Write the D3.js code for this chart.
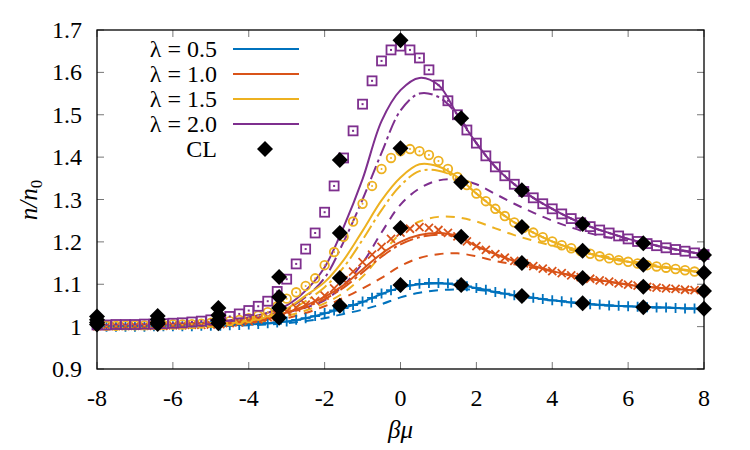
<!DOCTYPE html>
<html>
<head>
<meta charset="utf-8">
<script src="https://d3js.org/d3.v7.min.js"></script>
<style>
  body { margin: 0; background: #fff; }
  svg text { font-family: "Liberation Serif", "Times New Roman", serif; fill: #000; }
</style>
</head>
<body>
<svg id="chart" width="750" height="450"></svg>
<script>
// x grids
const lineX = [-8, -7.5, -7, -6.5, -6, -5.5, -5, -4.5, -4, -3.5, -3, -2.5, -2, -1.5, -1, -0.5,
  0, 0.5, 1, 1.5, 2, 2.5, 3, 3.5, 4, 4.5, 5, 5.5, 6, 6.5, 7, 7.5, 8];
const markX = [
  -8, -7.75, -7.5, -7.25, -7, -6.75, -6.5, -6.25, -6, -5.75, -5.5, -5.25, -5, -4.75, -4.5, -4.25,
  -4, -3.75, -3.5, -3.25, -3, -2.75, -2.5, -2.25, -2, -1.75, -1.5, -1.25, -1, -0.75, -0.5, -0.25,
  0, 0.25, 0.5, 0.75, 1, 1.25, 1.5, 1.75, 2, 2.25, 2.5, 2.75, 3, 3.25, 3.5, 3.75,
  4, 4.25, 4.5, 4.75, 5, 5.25, 5.5, 5.75, 6, 6.25, 6.5, 6.75, 7, 7.25, 7.5, 7.75, 8];

// lambda = 0.5 (blue)
const blueSolid = [1.000, 1.000, 1.000, 1.001, 1.001, 1.001, 1.002, 1.003, 1.005, 1.008, 1.012, 1.020,
  1.031, 1.044, 1.058, 1.077, 1.092, 1.100, 1.102, 1.099, 1.091, 1.082, 1.074, 1.068,
  1.062, 1.057, 1.053, 1.050, 1.048, 1.046, 1.045, 1.043, 1.042];
const blueDashed = [1.000, 1.000, 1.000, 1.000, 1.001, 1.001, 1.001, 1.002, 1.003, 1.005, 1.008, 1.013,
  1.020, 1.030, 1.040, 1.053, 1.069, 1.080, 1.086, 1.088, 1.087, 1.081, 1.074, 1.068,
  1.062, 1.057, 1.053, 1.050, 1.048, 1.046, 1.045, 1.043, 1.042];
const blueMarks = [
  1.000, 1.000, 1.000, 1.000, 1.000, 1.000, 1.001, 1.001, 1.001, 1.001, 1.001, 1.002, 1.002, 1.002, 1.003, 1.004,
  1.005, 1.006, 1.008, 1.010, 1.012, 1.016, 1.020, 1.025, 1.032, 1.038, 1.044, 1.051, 1.059, 1.068, 1.078, 1.086,
  1.093, 1.098, 1.101, 1.103, 1.103, 1.102, 1.099, 1.095, 1.091, 1.087, 1.082, 1.078, 1.074, 1.071, 1.068, 1.065,
  1.062, 1.060, 1.057, 1.055, 1.053, 1.052, 1.050, 1.049, 1.048, 1.047, 1.046, 1.045, 1.045, 1.044, 1.043, 1.043, 1.042];

// lambda = 1.0 (orange)
const orangeSolid = [1.001, 1.001, 1.001, 1.002, 1.002, 1.003, 1.004, 1.006, 1.010, 1.018, 1.033, 1.050,
  1.070, 1.098, 1.135, 1.172, 1.200, 1.216, 1.221, 1.214, 1.190, 1.171, 1.155, 1.143,
  1.131, 1.121, 1.113, 1.106, 1.099, 1.094, 1.090, 1.087, 1.084];
const orangeDashDot = [1.001, 1.001, 1.001, 1.001, 1.002, 1.003, 1.004, 1.006, 1.009, 1.016, 1.030, 1.046,
  1.065, 1.092, 1.128, 1.165, 1.194, 1.211, 1.217, 1.211, 1.190, 1.171, 1.155, 1.143,
  1.131, 1.121, 1.113, 1.106, 1.099, 1.094, 1.090, 1.087, 1.084];
const orangeDashed = [1.000, 1.000, 1.000, 1.001, 1.001, 1.002, 1.003, 1.005, 1.008, 1.013, 1.020, 1.032,
  1.048, 1.068, 1.090, 1.115, 1.143, 1.162, 1.171, 1.173, 1.166, 1.155, 1.147, 1.139,
  1.131, 1.121, 1.113, 1.106, 1.099, 1.094, 1.090, 1.087, 1.084];
const orangeMarks = [
  1.001, 1.001, 1.001, 1.001, 1.002, 1.002, 1.002, 1.002, 1.003, 1.003, 1.004, 1.004, 1.005, 1.006, 1.008, 1.010,
  1.013, 1.017, 1.022, 1.028, 1.036, 1.045, 1.052, 1.061, 1.073, 1.090, 1.110, 1.130, 1.152, 1.170, 1.188, 1.207,
  1.222, 1.231, 1.235, 1.233, 1.228, 1.221, 1.213, 1.201, 1.190, 1.181, 1.171, 1.163, 1.155, 1.149, 1.143, 1.137,
  1.131, 1.126, 1.121, 1.117, 1.113, 1.109, 1.106, 1.102, 1.099, 1.097, 1.094, 1.092, 1.090, 1.089, 1.087, 1.086, 1.084];

// lambda = 1.5 (yellow)
const yellowSolid = [1.001, 1.001, 1.002, 1.002, 1.003, 1.004, 1.006, 1.009, 1.014, 1.023, 1.042, 1.073,
  1.105, 1.157, 1.226, 1.298, 1.352, 1.383, 1.378, 1.353, 1.314, 1.278, 1.246, 1.222,
  1.201, 1.185, 1.172, 1.161, 1.153, 1.145, 1.139, 1.133, 1.127];
const yellowDashDot = [1.001, 1.001, 1.001, 1.002, 1.003, 1.004, 1.005, 1.008, 1.012, 1.020, 1.035, 1.060,
  1.093, 1.140, 1.205, 1.275, 1.333, 1.367, 1.368, 1.350, 1.314, 1.278, 1.246, 1.222,
  1.201, 1.185, 1.172, 1.161, 1.153, 1.145, 1.139, 1.133, 1.127];
const yellowDashed = [1.000, 1.000, 1.001, 1.001, 1.002, 1.003, 1.004, 1.006, 1.010, 1.016, 1.025, 1.038,
  1.055, 1.080, 1.118, 1.170, 1.220, 1.248, 1.259, 1.258, 1.248, 1.232, 1.216, 1.203,
  1.191, 1.181, 1.172, 1.164, 1.156, 1.148, 1.141, 1.134, 1.128];
const yellowMarks = [
  1.002, 1.002, 1.002, 1.003, 1.003, 1.003, 1.004, 1.004, 1.005, 1.005, 1.006, 1.007, 1.009, 1.010, 1.013, 1.016,
  1.020, 1.026, 1.034, 1.048, 1.066, 1.081, 1.096, 1.114, 1.145, 1.176, 1.212, 1.248, 1.290, 1.332, 1.372, 1.398,
  1.414, 1.419, 1.414, 1.405, 1.391, 1.372, 1.353, 1.334, 1.314, 1.296, 1.278, 1.261, 1.246, 1.233, 1.222, 1.211,
  1.201, 1.192, 1.185, 1.178, 1.172, 1.166, 1.161, 1.157, 1.153, 1.149, 1.145, 1.142, 1.139, 1.136, 1.133, 1.130, 1.127];

// lambda = 2.0 (purple)
const purpleSolid = [1.002, 1.002, 1.003, 1.004, 1.005, 1.007, 1.010, 1.015, 1.022, 1.033, 1.050, 1.085,
  1.140, 1.235, 1.348, 1.485, 1.558, 1.587, 1.570, 1.500, 1.433, 1.377, 1.336, 1.304,
  1.278, 1.255, 1.236, 1.221, 1.207, 1.196, 1.186, 1.178, 1.170];
const purpleDashDot = [1.001, 1.002, 1.002, 1.003, 1.004, 1.006, 1.008, 1.012, 1.018, 1.027, 1.042, 1.070,
  1.115, 1.200, 1.300, 1.410, 1.510, 1.550, 1.542, 1.500, 1.433, 1.377, 1.336, 1.304,
  1.278, 1.255, 1.236, 1.221, 1.207, 1.196, 1.186, 1.178, 1.170];
const purpleDashed = [1.000, 1.001, 1.001, 1.001, 1.002, 1.003, 1.005, 1.008, 1.013, 1.021, 1.033, 1.045,
  1.062, 1.098, 1.150, 1.222, 1.288, 1.326, 1.345, 1.347, 1.336, 1.313, 1.290, 1.269,
  1.250, 1.234, 1.220, 1.210, 1.203, 1.196, 1.187, 1.179, 1.171];
const purpleMarks = [
  1.004, 1.004, 1.005, 1.005, 1.005, 1.006, 1.006, 1.007, 1.008, 1.009, 1.011, 1.013, 1.016, 1.019, 1.024, 1.030,
  1.038, 1.048, 1.060, 1.083, 1.112, 1.148, 1.183, 1.221, 1.270, 1.332, 1.398, 1.462, 1.525, 1.580, 1.627, 1.653,
  1.662, 1.653, 1.634, 1.606, 1.570, 1.533, 1.500, 1.464, 1.433, 1.403, 1.377, 1.356, 1.336, 1.319, 1.304, 1.290,
  1.278, 1.266, 1.255, 1.245, 1.236, 1.228, 1.221, 1.214, 1.207, 1.201, 1.196, 1.191, 1.186, 1.182, 1.178, 1.174, 1.170];

// CL points
const clX = [-8, -6.4, -4.8, -3.2, -1.6, 0, 1.6, 3.2, 4.8, 6.4, 8];
const clPurple = [1.024, 1.025, 1.044, 1.117, 1.393, 1.676, 1.492, 1.322, 1.242, 1.197, 1.169];
const clYellow = [1.016, 1.017, 1.027, 1.070, 1.221, 1.421, 1.341, 1.235, 1.179, 1.146, 1.127];
const clOrange = [1.010, 1.010, 1.015, 1.044, 1.115, 1.233, 1.212, 1.150, 1.115, 1.094, 1.084];
const clBlue = [1.005, 1.006, 1.008, 1.021, 1.049, 1.098, 1.098, 1.072, 1.055, 1.046, 1.042];

const xTicks = [-8, -6, -4, -2, 0, 2, 4, 6, 8];
const yTicks = [0.9, 1.0, 1.1, 1.2, 1.3, 1.4, 1.5, 1.6, 1.7];
const yTickLabels = ["0.9", "1", "1.1", "1.2", "1.3", "1.4", "1.5", "1.6", "1.7"];
const legendLabels = ["0.5", "1.0", "1.5", "2.0"];

const colors = ["#0072bd", "#d95319", "#edb120", "#7e2f8e"];

const svg = d3.select("#chart");
const x = d3.scaleLinear().domain([-8, 8]).range([97, 704]);
const y = d3.scaleLinear().domain([0.9, 1.7]).range([369, 30]);

// ticks (inside, all four sides)
const tickG = svg.append("g").attr("stroke", "#777").attr("stroke-width", 1);
xTicks.forEach(t => {
  tickG.append("line").attr("x1", x(t)).attr("x2", x(t)).attr("y1", y(0.9)).attr("y2", y(0.9) - 7);
  tickG.append("line").attr("x1", x(t)).attr("x2", x(t)).attr("y1", y(1.7)).attr("y2", y(1.7) + 7);
});
yTicks.forEach(t => {
  tickG.append("line").attr("x1", x(-8)).attr("x2", x(-8) + 7).attr("y1", y(t)).attr("y2", y(t));
  tickG.append("line").attr("x1", x(8)).attr("x2", x(8) - 7).attr("y1", y(t)).attr("y2", y(t));
});

// tick labels
svg.append("g").selectAll("text").data(xTicks).enter().append("text")
  .attr("x", d => x(d)).attr("y", 406)
  .attr("text-anchor", "middle").attr("font-size", 24)
  .text(d => d);
svg.append("g").selectAll("text").data(yTicks).enter().append("text")
  .attr("x", 82).attr("y", d => y(d) + 8)
  .attr("text-anchor", "end").attr("font-size", 24)
  .text((d, i) => yTickLabels[i]);

// axis titles
svg.append("text").attr("x", x(0)).attr("y", 438)
  .attr("text-anchor", "middle").attr("font-size", 25).attr("font-style", "italic")
  .text("βμ");
const yt = svg.append("text").attr("transform", "translate(37,200) rotate(-90)")
  .attr("text-anchor", "middle").attr("font-size", 25);
yt.append("tspan").attr("font-style", "italic").text("n/n");
yt.append("tspan").attr("font-size", 17).attr("dy", 5).text("0");

// lines
const line = d3.line()
  .x((d, i) => x(lineX[i]))
  .y(d => y(d))
  .curve(d3.curveCatmullRom.alpha(0.5));

const dashed = "9,7";
const dashDot = "14,4,3,4";
const lineSets = [
  [blueDashed, 0, dashed], [orangeDashed, 1, dashed], [yellowDashed, 2, dashed], [purpleDashed, 3, dashed],
  [orangeDashDot, 1, dashDot], [yellowDashDot, 2, dashDot], [purpleDashDot, 3, dashDot],
  [blueSolid, 0, null], [orangeSolid, 1, null], [yellowSolid, 2, null], [purpleSolid, 3, null]
];
const lineG = svg.append("g");
lineSets.forEach(([vals, c, dash]) => {
  lineG.append("path")
    .datum(vals)
    .attr("fill", "none")
    .attr("stroke", colors[c])
    .attr("stroke-width", 2)
    .attr("stroke-dasharray", dash)
    .attr("d", line);
});

// markers
const markG = svg.append("g");
markG.selectAll(".plus").data(blueMarks).enter().append("path")
  .attr("transform", (d, i) => `translate(${x(markX[i])},${y(d)})`)
  .attr("d", "M-5,0H5M0,-5V5")
  .attr("stroke", colors[0]).attr("stroke-width", 1.8).attr("fill", "none");
markG.selectAll(".cross").data(orangeMarks).enter().append("path")
  .attr("transform", (d, i) => `translate(${x(markX[i])},${y(d)})`)
  .attr("d", "M-4,-4L4,4M-4,4L4,-4")
  .attr("stroke", colors[1]).attr("stroke-width", 1.8).attr("fill", "none");
const circ = markG.selectAll(".circ").data(yellowMarks).enter().append("g")
  .attr("transform", (d, i) => `translate(${x(markX[i])},${y(d)})`);
circ.append("circle").attr("r", 4.3).attr("fill", "none").attr("stroke", colors[2]).attr("stroke-width", 1.8);
circ.append("circle").attr("r", 1).attr("fill", colors[2]);
const sq = markG.selectAll(".sq").data(purpleMarks).enter().append("g")
  .attr("transform", (d, i) => `translate(${x(markX[i])},${y(d)})`);
sq.append("rect").attr("x", -4.5).attr("y", -4.5).attr("width", 9).attr("height", 9)
  .attr("fill", "none").attr("stroke", colors[3]).attr("stroke-width", 1.8);
sq.append("rect").attr("x", -1).attr("y", -1).attr("width", 2).attr("height", 2).attr("fill", colors[3]);

// CL diamonds
const diamond = "M0,-8L8,0L0,8L-8,0Z";
const clG = svg.append("g");
[clPurple, clYellow, clOrange, clBlue].forEach(vals => {
  clG.selectAll(null).data(vals).enter().append("path")
    .attr("transform", (d, i) => `translate(${x(clX[i])},${y(d)})`)
    .attr("d", diamond).attr("fill", "#000");
});

// frame
svg.append("rect").attr("x", x(-8)).attr("y", y(1.7))
  .attr("width", x(8) - x(-8)).attr("height", y(0.9) - y(1.7))
  .attr("fill", "none").attr("stroke", "#000").attr("stroke-width", 1.3);

// legend
const legend = svg.append("g");
legendLabels.forEach((lab, i) => {
  const ly = 49 + i * 25;
  legend.append("text").attr("x", 217).attr("y", ly + 8)
    .attr("text-anchor", "end").attr("font-size", 24)
    .text(`λ = ${lab}`);
  legend.append("line").attr("x1", 233).attr("x2", 299).attr("y1", ly).attr("y2", ly)
    .attr("stroke", colors[i]).attr("stroke-width", 2);
});
legend.append("text").attr("x", 217).attr("y", 149 + 8)
  .attr("text-anchor", "end").attr("font-size", 24).text("CL");
legend.append("path").attr("transform", "translate(265,149)").attr("d", diamond).attr("fill", "#000");
</script>
</body>
</html>
